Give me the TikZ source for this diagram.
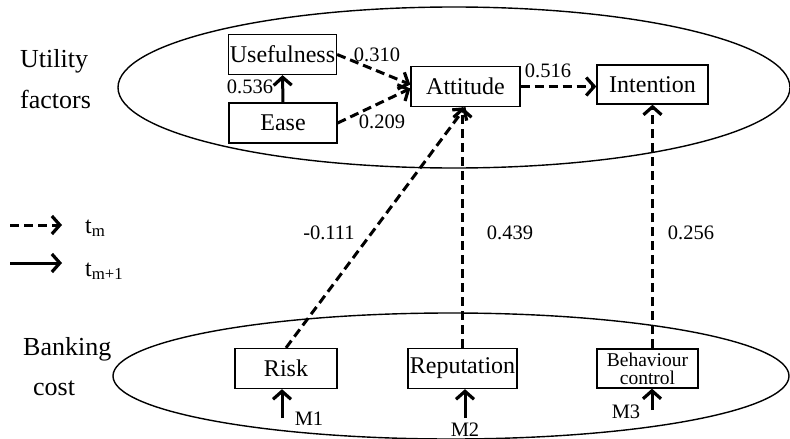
\documentclass[tikz,border=0pt]{standalone}
\usepackage{fontspec}
\setmainfont{Liberation Serif}
\usetikzlibrary{arrows.meta,calc}
\tikzset{
  box/.style={draw, line width=1.3pt, inner sep=1pt, font=\fontsize{24}{26}\selectfont, minimum height=40pt},
  lbl/.style={font=\fontsize{20.5}{22}\selectfont, inner sep=0pt, anchor=base},
  side/.style={font=\fontsize{26}{28}\selectfont, inner sep=0pt, anchor=base west},
  headtip/.tip={Straight Barb[length=8pt,width=18pt,line width=3.2pt]},
  dasharrow/.style={line width=3pt, dash pattern=on 9pt off 5pt, -headtip},
  solidarrow/.style={line width=3pt, -headtip},
  ring/.style={line width=1.4pt}
}
\begin{document}
\begin{tikzpicture}[x=1pt,y=-1pt]
\useasboundingbox (0,0) rectangle (790,439);
% ellipses
\draw[ring] (454,87.5) ellipse [x radius=336pt, y radius=80.5pt];
\draw[ring] (451,376) ellipse [x radius=338pt, y radius=63pt];
% side labels
\node[side] (ut) at (20,67) {Utility};
\node[side] (fa) at (20,108) {factors};
\node[side] (ba) at (23,355) {Banking};
\node[side] (co) at (33,395) {cost};
% boxes
\node[box, minimum width=108pt] (use) at (282.5,54.5) {Usefulness};
\node[box, minimum width=108pt] (ease) at (283,123) {Ease};
\node[box, minimum width=109pt] (att) at (465.5,86.5) {Attitude};
\node[box, minimum width=111pt, minimum height=39pt] (int) at (652.5,84.5) {Intention};
\node[box, minimum width=102pt] (risk) at (286,368.5) {Risk};
\node[box, minimum width=109pt] (rep) at (462.5,368.5) {Reputation};
\node[box, minimum width=101pt, minimum height=39pt, inner sep=0.5pt, align=center, font=\fontsize{19.5}{18}\selectfont] (beh) at (647.5,368.5) {Behaviour\\control};
% connectors
\draw[dasharrow] (use.east) -- ([yshift=2pt]att.west);
\draw[dasharrow] (ease.east) -- ([yshift=-2pt]att.west);
\draw[solidarrow] (ease.north) -- (use.south);
\draw[dasharrow] (att.east) -- (att.east -| int.west);
\draw[dasharrow] (risk.north) -- (att.south);
\draw[dasharrow] (rep.north) -- (rep.north |- att.south);
\draw[dasharrow] (int.south |- beh.north) -- (int.south);
% M arrows
\coordinate (m1) at (282,418);
\coordinate (m2) at (465,418);
\coordinate (m3) at (652,410);
\draw[solidarrow] (m1) -- (m1 |- risk.south);
\draw[solidarrow] (m2) -- (m2 |- rep.south);
\draw[solidarrow] (m3) -- (m3 |- beh.south);
\node[lbl] (lm1) at (309,425) {M1};
\node[lbl] (lm2) at (465,436) {M2};
\node[lbl] (lm3) at (626,418) {M3};
% edge labels
\node[lbl] (l310) at (377,61) {0.310};
\node[lbl] (l536) at (250,93) {0.536};
\node[lbl] (l209) at (382,128) {0.209};
\node[lbl] (l516) at (548,77) {0.516};
\node[lbl] (l111) at (329,239) {-0.111};
\node[lbl] (l439) at (510,239) {0.439};
\node[lbl] (l256) at (691,239) {0.256};
% legend
\coordinate (la1) at (10,225);
\coordinate (lb1) at (62,225);
\coordinate (la2) at (10,263);
\coordinate (lb2) at (62,263);
\draw[dasharrow] (la1) -- (lb1);
\draw[solidarrow] (la2) -- (lb2);
\node[font=\fontsize{24}{26}\selectfont, inner sep=0pt, anchor=base west] (tm) at (85,233) {t\textsubscript{m}};
\node[font=\fontsize{24}{26}\selectfont, inner sep=0pt, anchor=base west] (tm1) at (85,276) {t\textsubscript{m+1}};
\end{tikzpicture}
\end{document}
